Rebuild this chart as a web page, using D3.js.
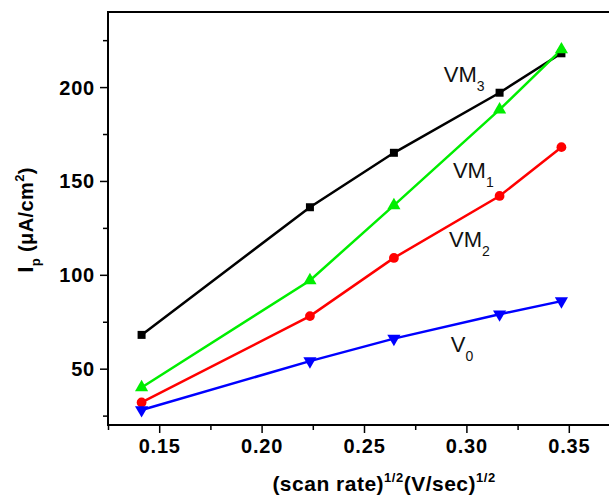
<!DOCTYPE html>
<html>
<head>
<meta charset="utf-8">
<script src="https://cdn.jsdelivr.net/npm/d3@7"></script>
<style>
  body { margin: 0; background: #fff; }
  svg { display: block; font-family: "Liberation Sans", Arial, sans-serif; }
</style>
</head>
<body>
<svg id="chart" width="609" height="500"></svg>
<script>
// scan rate^(1/2) values
const xValues = [0.1414, 0.2236, 0.2646, 0.3162, 0.3464];

const vm3 = [68, 136, 165, 197, 218];
const vm1 = [40, 97, 137, 188, 220];
const vm2 = [32, 78, 109, 142, 168];
const v0 = [28, 54, 66, 79, 86];

const xTicks = [0.15, 0.20, 0.25, 0.30, 0.35];
const yTicks = [50, 100, 150, 200];

const series = [
  { name: 'VM3', values: vm3, color: '#000000', symbol: d3.symbolSquare, size: 64, rot: 0 },
  { name: 'VM1', values: vm1, color: '#00ee00', symbol: d3.symbolTriangle, size: 75, rot: 0 },
  { name: 'VM2', values: vm2, color: '#ff0000', symbol: d3.symbolCircle, size: 75, rot: 0 },
  { name: 'V0', values: v0, color: '#0000ff', symbol: d3.symbolTriangle, size: 75, rot: 180 }
];

// curve labels, in data units
const labels = [
  { main: 'VM', sub: '3', x: 0.289, y: 202.5 },
  { main: 'VM', sub: '1', x: 0.2934, y: 151.5 },
  { main: 'VM', sub: '2', x: 0.2915, y: 115 },
  { main: 'V', sub: '0', x: 0.2924, y: 59 }
];

const svg = d3.select('#chart');
const mLeft = 108, mTop = 12, mBottom = 425;

const x = d3.scaleLinear().domain([0.125, 0.375]).range([mLeft, mLeft + 512]);
const y = d3.scaleLinear().domain([20, 240]).range([mBottom, mTop]);

// frame
svg.append('rect')
  .attr('x', mLeft).attr('y', mTop)
  .attr('width', x(0.375) - mLeft).attr('height', mBottom - mTop)
  .attr('fill', 'none').attr('stroke', '#000').attr('stroke-width', 2);

// minor ticks
const xMinor = d3.range(0.125, 0.376, 0.025).filter(v => !xTicks.some(t => Math.abs(t - v) < 1e-6));
const yMinor = d3.range(25, 240, 50);

const gx = svg.append('g').attr('transform', `translate(0,${mBottom})`);
gx.call(d3.axisBottom(x).tickValues(xTicks).tickFormat(d3.format('.2f')).tickSize(8).tickSizeOuter(0));
gx.append('g').call(d3.axisBottom(x).tickValues(xMinor).tickFormat('').tickSize(5).tickSizeOuter(0));

const gy = svg.append('g').attr('transform', `translate(${mLeft},0)`);
gy.call(d3.axisLeft(y).tickValues(yTicks).tickSize(8).tickSizeOuter(0));
gy.append('g').call(d3.axisLeft(y).tickValues(yMinor).tickFormat('').tickSize(5).tickSizeOuter(0));

svg.selectAll('.domain').remove();
svg.selectAll('.tick line').attr('stroke', '#000').attr('stroke-width', 1.5);
gx.selectAll('.tick text')
  .attr('font-size', 20).attr('font-weight', 'bold').attr('fill', '#000')
  .attr('font-family', '"Liberation Sans", Arial, sans-serif')
  .attr('letter-spacing', 0.8)
  .attr('y', 14).attr('dy', '0.71em');
gy.selectAll('.tick text')
  .attr('font-size', 20).attr('font-weight', 'bold').attr('fill', '#000')
  .attr('font-family', '"Liberation Sans", Arial, sans-serif')
  .attr('letter-spacing', 0.8)
  .attr('x', -13).attr('dy', '0.35em');

// lines and markers
const line = d3.line().x((d, i) => x(xValues[i])).y(d => y(d));

series.forEach(s => {
  svg.append('path')
    .attr('d', line(s.values))
    .attr('fill', 'none')
    .attr('stroke', s.color)
    .attr('stroke-width', 2.5);
});

series.forEach(s => {
  svg.append('g').selectAll('path')
    .data(s.values)
    .join('path')
    .attr('d', d3.symbol().type(s.symbol).size(s.size))
    .attr('transform', (d, i) => `translate(${x(xValues[i])},${y(d)}) rotate(${s.rot})`)
    .attr('fill', s.color);
});

// curve labels
labels.forEach(l => {
  const t = svg.append('text')
    .attr('x', x(l.x)).attr('y', y(l.y))
    .attr('font-size', 22).attr('fill', '#111');
  t.append('tspan').text(l.main);
  t.append('tspan').attr('font-size', 14).attr('dy', 9).text(l.sub);
});

// x axis title
const xt = svg.append('text')
  .attr('x', 384).attr('y', 491)
  .attr('text-anchor', 'middle')
  .attr('letter-spacing', 0.5)
  .attr('font-size', 21).attr('font-weight', 'bold');
xt.append('tspan').text('(scan rate)');
xt.append('tspan').attr('font-size', 13).attr('dy', -9).text('1/2');
xt.append('tspan').attr('dy', 9).text('(V/sec)');
xt.append('tspan').attr('font-size', 13).attr('dy', -9).text('1/2');

// y axis title
const yt = svg.append('text')
  .attr('transform', 'translate(33,220) rotate(-90)')
  .attr('text-anchor', 'middle')
  .attr('letter-spacing', 0.4)
  .attr('font-size', 20).attr('font-weight', 'bold');
yt.append('tspan').attr('font-size', 22).text('I');
yt.append('tspan').attr('font-size', 13).attr('dy', 7).text('p');
yt.append('tspan').attr('dy', -7).text(' (\u03bcA/cm');
yt.append('tspan').attr('font-size', 13).attr('dy', -9).text('2');
yt.append('tspan').attr('dy', 9).text(')');
</script>
</body>
</html>
